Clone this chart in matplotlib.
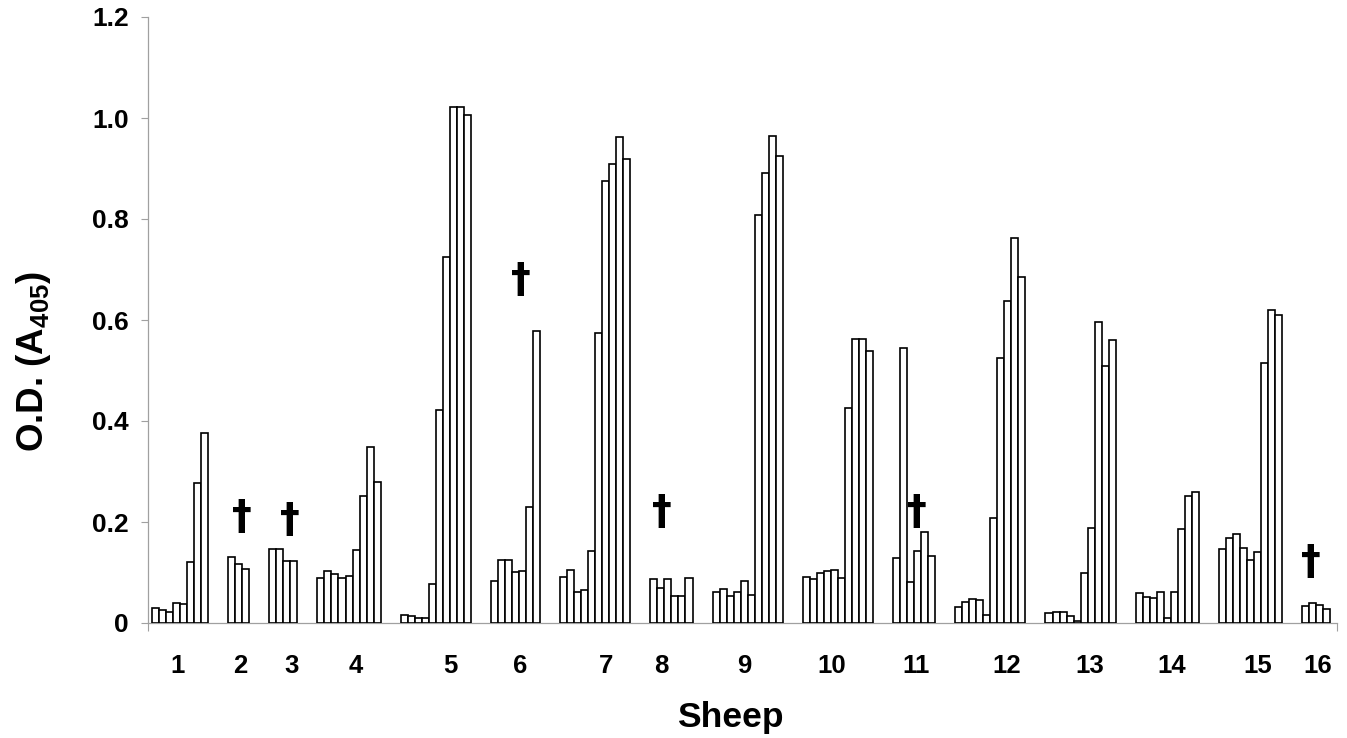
import numpy as np
import matplotlib
matplotlib.use('Agg')
import matplotlib.pyplot as plt
from matplotlib.ticker import FixedLocator

plt.rcParams['font.family'] = ['Liberation Sans', 'DejaVu Sans']
plt.rcParams['font.weight'] = 'bold'
plt.rcParams['mathtext.fontset'] = 'custom'
plt.rcParams['mathtext.rm'] = 'Liberation Sans:bold'
plt.rcParams['mathtext.default'] = 'rm'

# O.D. readings per sheep (one bar per sampling time, missing after death)
s1 = [0.030, 0.026, 0.022, 0.040, 0.038, 0.120, 0.277, 0.376]
s2 = [0.130, 0.117, 0.106]
s3 = [0.147, 0.147, 0.123, 0.122]
s4 = [0.090, 0.102, 0.097, 0.090, 0.094, 0.145, 0.252, 0.349, 0.280]
s5 = [0.015, 0.013, 0.009, 0.010, 0.077, 0.421, 0.724, 1.021, 1.021, 1.006]
s6 = [0.083, 0.124, 0.124, 0.101, 0.103, 0.230, 0.578]
s7 = [0.092, 0.104, 0.062, 0.065, 0.142, 0.575, 0.875, 0.909, 0.962, 0.918]
s8 = [0.087, 0.069, 0.088, 0.053, 0.053, 0.090]
s9 = [0.061, 0.067, 0.053, 0.062, 0.084, 0.055, 0.807, 0.892, 0.965, 0.925]
s10 = [0.092, 0.087, 0.100, 0.103, 0.105, 0.089, 0.425, 0.563, 0.563, 0.539]
s11 = [0.129, 0.545, 0.081, 0.142, 0.181, 0.133]
s12 = [0.031, 0.041, 0.047, 0.045, 0.016, 0.208, 0.524, 0.637, 0.762, 0.686]
s13 = [0.019, 0.021, 0.022, 0.013, 0.003, 0.100, 0.189, 0.597, 0.508, 0.560]
s14 = [0.059, 0.051, 0.050, 0.062, 0.010, 0.062, 0.187, 0.251, 0.259]
s15 = [0.147, 0.168, 0.177, 0.149, 0.124, 0.141, 0.515, 0.619, 0.610]
s16 = [0.034, 0.040, 0.036, 0.027]
sheep = [s1, s2, s3, s4, s5, s6, s7, s8, s9, s10, s11, s12, s13, s14, s15, s16]
sheep_labels = [str(i) for i in range(1, 17)]

# sheep that died (marked with a dagger)
died = [2, 3, 6, 8, 11, 16]
dagger_y = [0.207, 0.202, 0.677, 0.218, 0.218, 0.119]

# layout (in bar widths)
gap = 2.85
label_shift = [-0.35, 0.2, 1.2, 1.0, 2.1, 0.7, 1.5, -1.4, -0.5, -0.85,
               0.3, 2.3, 1.3, 0.6, 1.0, 0.15]
dagger_shift = [1.96, 2.86, 4.3, 1.6, 3.4, 1.2]

starts = []
pos = 0.0
for g in sheep:
    starts.append(pos)
    pos += len(g) + gap
total = pos - gap

fig = plt.figure(figsize=(13.47, 7.38), dpi=100)
ax = fig.add_axes([148/1347, 115/738, 1189/1347, 606/738])

for st, g in zip(starts, sheep):
    xs = st + np.arange(len(g)) + 0.5
    ax.bar(xs, g, width=1.0, color='white', edgecolor='black', linewidth=1.2, zorder=3)

centers = [st + len(g)/2 + sh for st, g, sh in zip(starts, sheep, label_shift)]

for k, yv, sh in zip(died, dagger_y, dagger_shift):
    ax.text(starts[k-1] + sh, yv, '\u2020', ha='center', va='center',
            fontsize=28.5, fontweight='bold', family=['DejaVu Sans'])

xmin, xmax = -0.57, total + 0.95
ax.set_xlim(xmin, xmax)
ax.set_ylim(0, 1.2)

ax.set_xticks(centers)
ax.set_xticklabels(sheep_labels, fontsize=18.5, fontweight='bold')
ax.xaxis.set_minor_locator(FixedLocator([xmin, xmax]))
ax.tick_params(axis='x', which='major', length=0, pad=22)
ax.tick_params(axis='x', which='minor', length=6, width=0.8, color='#a0a0a0', direction='out')

ax.set_yticks([0, 0.2, 0.4, 0.6, 0.8, 1.0, 1.2])
ax.set_yticklabels(['0', '0.2', '0.4', '0.6', '0.8', '1.0', '1.2'], fontsize=19, fontweight='bold')
ax.tick_params(axis='y', length=5, width=0.8, color='#a0a0a0', pad=9, direction='out')

for s in ['top', 'right']:
    ax.spines[s].set_visible(False)
for s in ['left', 'bottom']:
    ax.spines[s].set_color('#a0a0a0')
    ax.spines[s].set_linewidth(0.9)

ax.set_xlabel('Sheep', fontsize=25.5, fontweight='bold')
ax.xaxis.set_label_coords((730-148)/1189, (623-701)/606)
fig.text(34/1347, 1 - 361/738, 'O.D. (A$_{405}$)', rotation=90, ha='center', va='center',
         fontsize=26.5, fontweight='bold')

fig.savefig('out.png', dpi=100)
